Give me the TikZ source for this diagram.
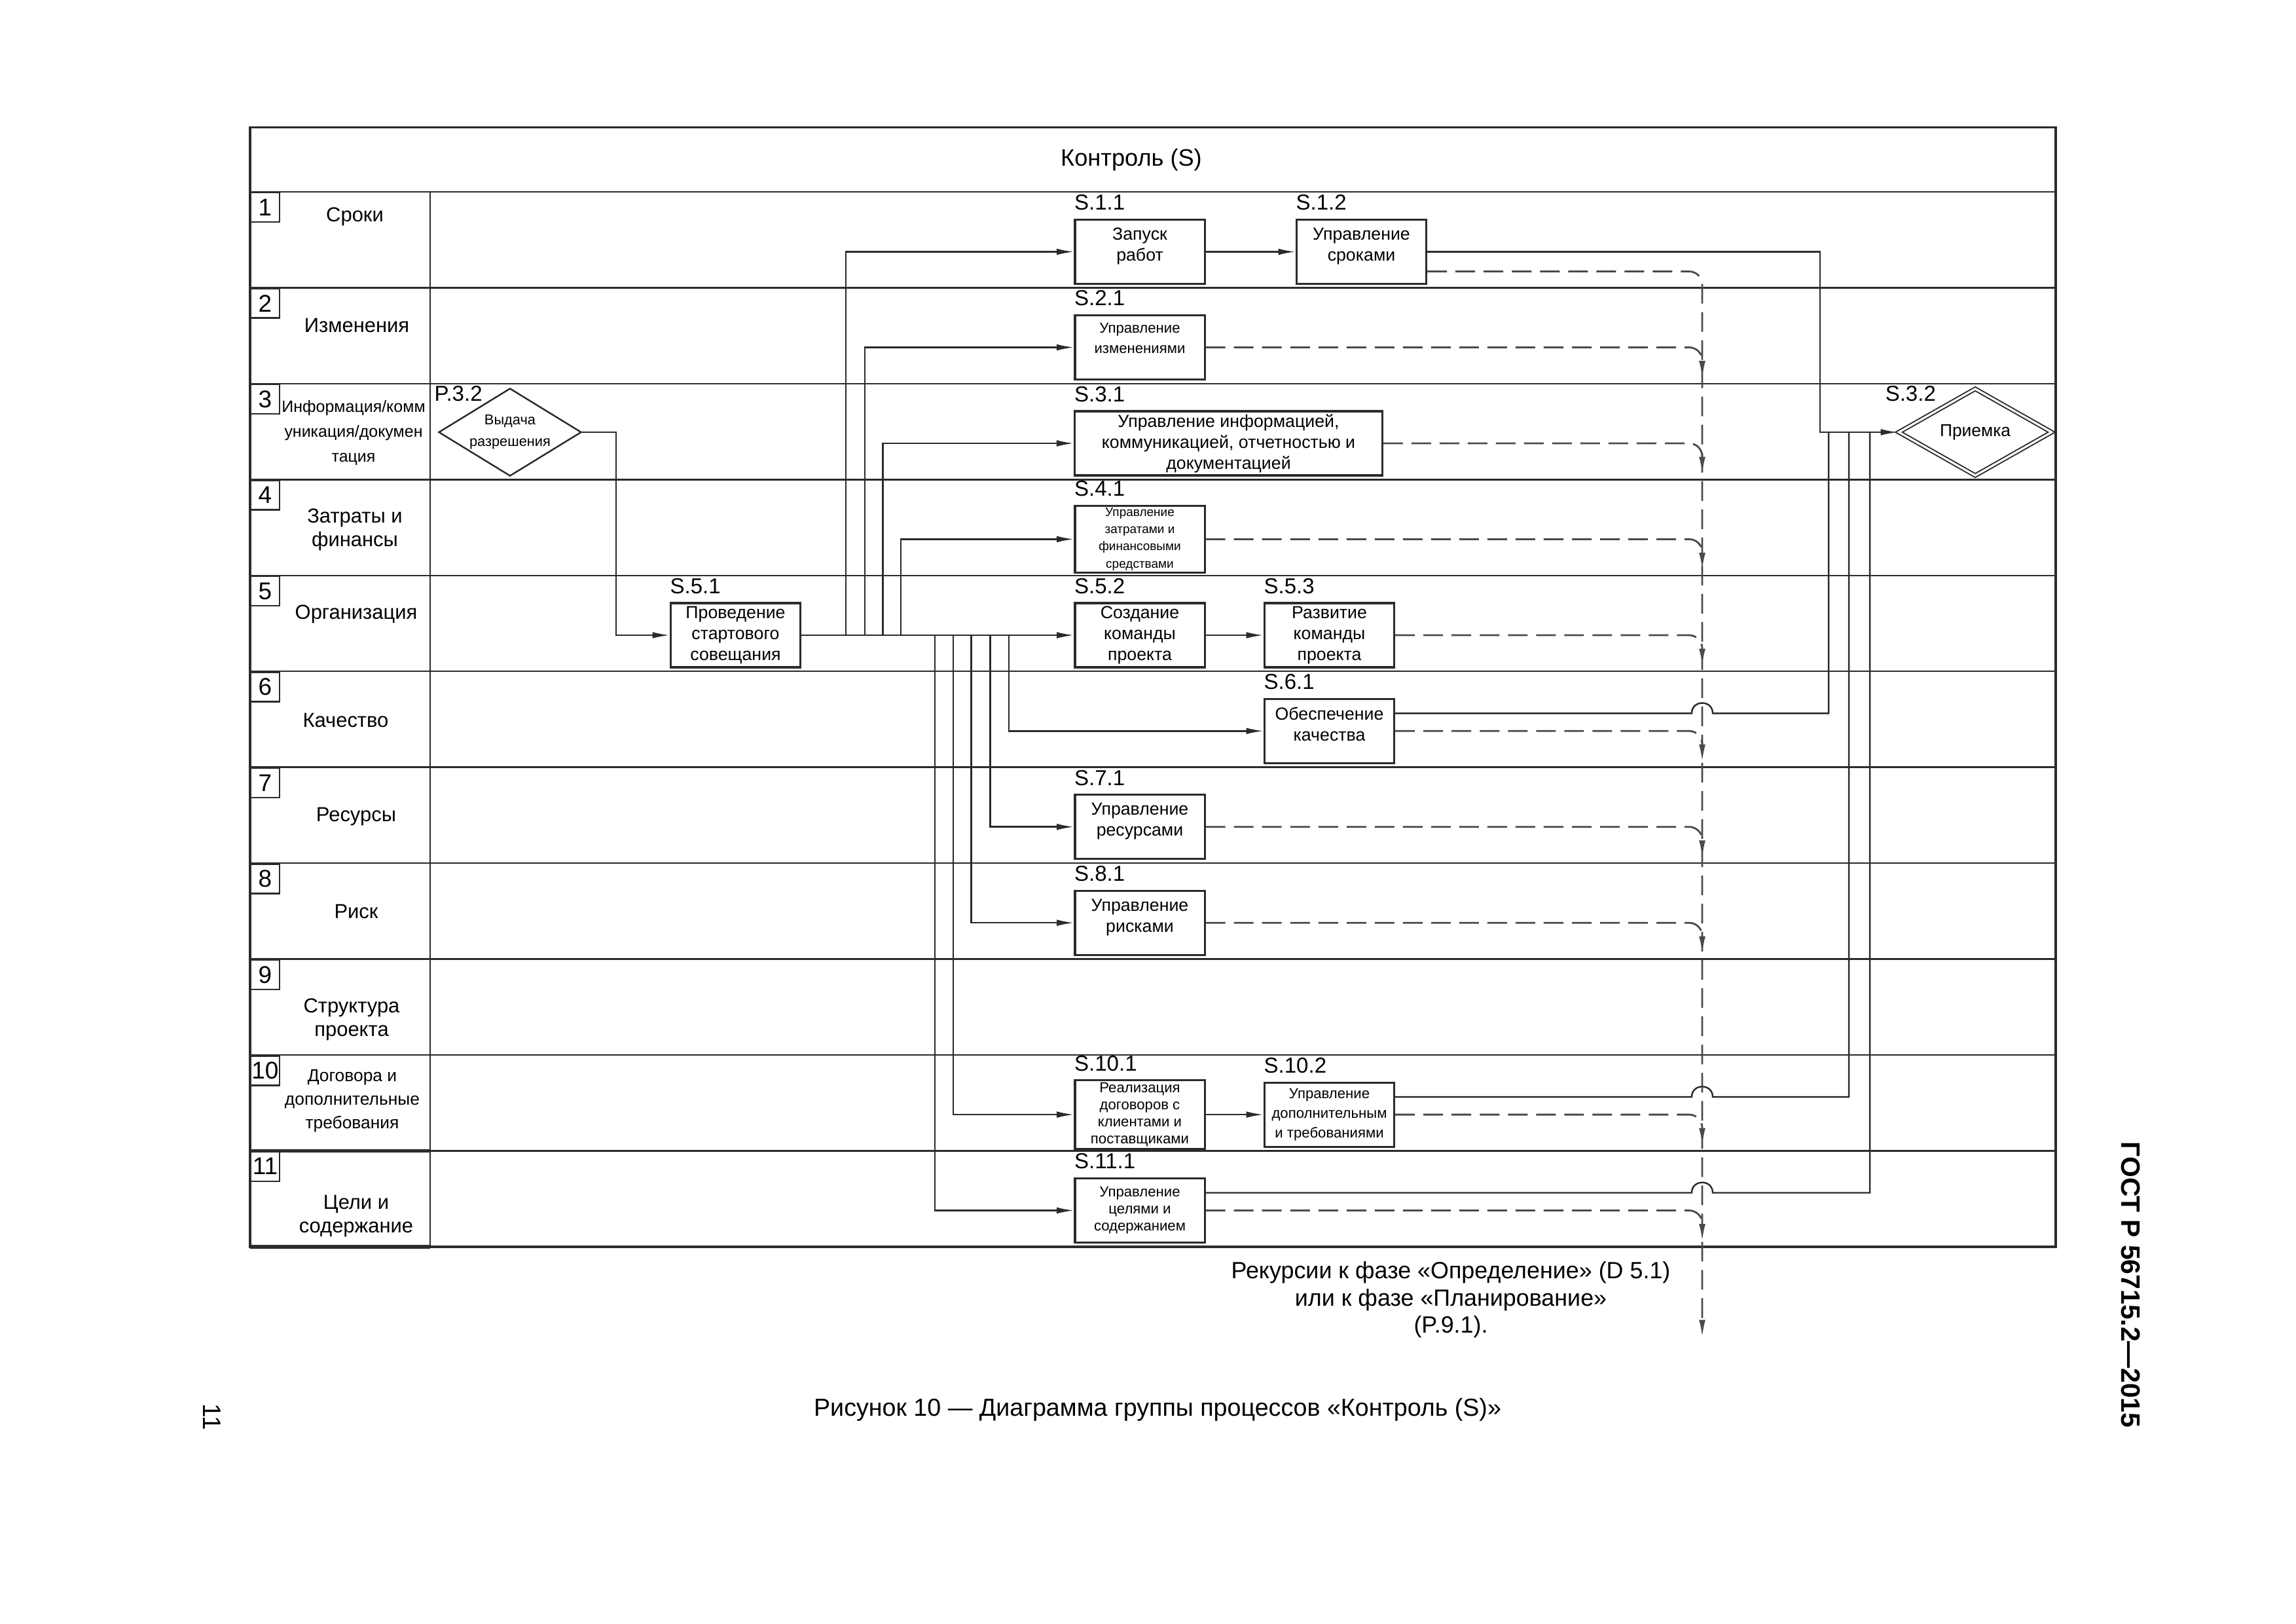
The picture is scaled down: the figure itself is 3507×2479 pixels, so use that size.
\documentclass[tikz,border=0pt]{standalone}
\usepackage{fontspec}
\setmainfont{Liberation Sans}
\usepackage{tikz}
\usetikzlibrary{shapes.geometric, arrows.meta, positioning, calc}
\definecolor{LineGrey}{HTML}{2B2B2B}
\definecolor{DashGrey}{HTML}{4A4A4A}
\newcommand{\titlefont}{\fontsize{10.3}{12}\selectfont}
\newcommand{\lanefont}{\fontsize{8.8}{10.4}\selectfont}
\newcommand{\boxfont}{\fontsize{7.6}{9.1}\selectfont}
\newcommand{\codefont}{\fontsize{9.4}{11}\selectfont}
\newcommand{\numfont}{\fontsize{10.5}{12}\selectfont}

\begin{document}
\begin{tikzpicture}[x=0.01cm, y=-0.01cm, >={Latex[length=7.5pt,width=2.8pt]},
    every node/.style={font=\boxfont},
    frame/.style={draw=LineGrey, line width=0.9pt},
    lane/.style={draw=LineGrey, line width=0.7pt},
    numbox/.style={draw=LineGrey, line width=0.7pt, anchor=north west, minimum width=0.435cm, minimum height=0.45cm, inner sep=0pt, font=\numfont},
    lanelabel/.style={align=center, inner sep=0pt, font=\lanefont},
    procbox/.style={draw=LineGrey, line width=0.9pt, fill=white, minimum width=1.98cm, minimum height=0.98cm, inner sep=1pt, align=center},
    decision/.style={diamond, draw=LineGrey, line width=0.7pt, fill=white, inner sep=0pt, align=center},
    code/.style={anchor=south west, inner sep=0pt, fill=white, font=\codefont},
    flow/.style={draw=LineGrey, line width=0.7pt},
    recur/.style={draw=DashGrey, line width=0.8pt, dash pattern=on 0.3cm off 0.13cm, rounded corners=0.2cm}]
  \useasboundingbox (0,0) rectangle (3507,2479);

  % frame, lanes and lane numbers
  \draw[frame] (382,194.5) rectangle (3140,1904);
  \node[font=\titlefont] (title) at (1728,244) {Контроль (S)};
  \foreach \n in {1,...,11} {
    \pgfmathsetmacro{\y}{293+146.45*(\n-1)}
    \draw[lane] (382,\y) -- (3140,\y);
    \node[numbox] (num\n) at (382,\y) {\n};
  }
  \draw[lane] (657,293) -- (657,1904);
  \draw[line width=1.6pt, LineGrey] (382,1757.5) -- (657,1757.5);
  \draw[line width=1.6pt, LineGrey] (382,1904) -- (657,1904);

  % lane labels
  \node[lanelabel] (lab1) at (542,331) {Сроки};
  \node[lanelabel] (lab2) at (545,497) {Изменения};
  \node[lanelabel, font=\fontsize{7.1}{10.8}\selectfont] (lab3) at (540,661) {Информация/комм\\уникация/докумен\\тация};
  \node[lanelabel] (lab4) at (542,809) {Затраты и\\финансы};
  \node[lanelabel] (lab5) at (544,938) {Организация};
  \node[lanelabel] (lab6) at (528,1100) {Качество};
  \node[lanelabel] (lab7) at (544,1247) {Ресурсы};
  \node[lanelabel] (lab8) at (544,1392) {Риск};
  \node[lanelabel] (lab9) at (537,1557) {Структура\\проекта};
  \node[lanelabel, font=\fontsize{7.5}{10.2}\selectfont] (lab10) at (538,1681) {Договора и\\дополнительные\\требования};
  \node[lanelabel] (lab11) at (544,1857) {Цели и\\содержание};

  % processes
  \node[decision, aspect=1.63, minimum width=2.18cm, minimum height=1.34cm, font=\fontsize{6.2}{9.4}\selectfont] (p32) at (779,660) {Выдача\\разрешения};
  \node[code] (lp32) at (663,614) {P.3.2};
  \node[procbox] (s51) at (1123.5,970) {Проведение\\стартового\\совещания};
  \node[procbox] (s11) at (1741,384.5) {Запуск\\работ\\[-0.1cm]};
  \node[procbox] (s12) at (2079.5,384.5) {Управление\\сроками\\[-0.1cm]};
  \node[procbox, font=\fontsize{6.3}{8.8}\selectfont] (s21) at (1741,530.5) {Управление\\изменениями\\[-0.02cm]};
  \node[procbox, minimum width=4.69cm] (s31) at (1876.5,677) {Управление информацией,\\коммуникацией, отчетностью и\\документацией};
  \node[procbox, font=\fontsize{5.4}{7.4}\selectfont] (s41) at (1741,823.4) {Управление\\затратами и\\финансовыми\\средствами};
  \node[procbox] (s52) at (1741,970) {Создание\\команды\\проекта};
  \node[procbox] (s53) at (2030.5,970) {Развитие\\команды\\проекта};
  \node[procbox] (s61) at (2030.5,1116.3) {Обеспечение\\качества\\[-0.1cm]};
  \node[procbox] (s71) at (1741,1262.7) {Управление\\ресурсами\\[-0.1cm]};
  \node[procbox] (s81) at (1741,1409.2) {Управление\\рисками\\[-0.1cm]};
  \node[procbox, font=\fontsize{6.3}{7.4}\selectfont] (s101) at (1741,1702.1) {Реализация\\договоров с\\клиентами и\\поставщиками};
  \node[procbox, font=\fontsize{6.3}{8.5}\selectfont] (s102) at (2030.5,1702.1) {Управление\\дополнительным\\и требованиями};
  \node[procbox, font=\fontsize{6.3}{7.4}\selectfont] (s111) at (1741,1848.5) {Управление\\целями и\\содержанием};
  \node[decision, double, double distance=0.9pt, line width=0.55pt, aspect=1.76, minimum width=2.34cm, minimum height=1.33cm, font=\fontsize{7.5}{9}\selectfont] (s32) at (3017,660) {Приемка};

  % process codes
  \node[code] (l11) at ([yshift=0.12cm]s11.north west) {S.1.1};
  \node[code] (l12) at ([yshift=0.12cm]s12.north west) {S.1.2};
  \node[code] (l21) at ([yshift=0.12cm]s21.north west) {S.2.1};
  \node[code] (l31) at ([yshift=0.12cm]s31.north west) {S.3.1};
  \node[code] (l41) at ([yshift=0.12cm]s41.north west) {S.4.1};
  \node[code] (l51) at ([yshift=0.12cm]s51.north west) {S.5.1};
  \node[code] (l52) at ([yshift=0.12cm]s52.north west) {S.5.2};
  \node[code] (l53) at ([yshift=0.12cm]s53.north west) {S.5.3};
  \node[code] (l61) at ([yshift=0.12cm]s61.north west) {S.6.1};
  \node[code] (l71) at ([yshift=0.12cm]s71.north west) {S.7.1};
  \node[code] (l81) at ([yshift=0.12cm]s81.north west) {S.8.1};
  \node[code] (l101) at ([yshift=0.12cm]s101.north west) {S.10.1};
  \node[code] (l102) at ([yshift=0.12cm]s102.north west) {S.10.2};
  \node[code] (l111) at ([yshift=0.12cm]s111.north west) {S.11.1};
  \node[code] (l32) at (2879,614) {S.3.2};

  % bus positions
  \coordinate (in51) at (941,0);
  \coordinate (u1) at (1292,0);
  \coordinate (u2) at (1321,0);
  \coordinate (u3) at (1348.5,0);
  \coordinate (u4) at (1376,0);
  \coordinate (d1) at (1428,0);
  \coordinate (d2) at (1456,0);
  \coordinate (d3) at (1483.6,0);
  \coordinate (d4) at (1512.6,0);
  \coordinate (d5) at (1541,0);
  \coordinate (trunk) at (2600,0);
  \coordinate (trunkend) at (2600,2042);
  \coordinate (acc) at (2780,0);
  \coordinate (fb1) at (2793,0);
  \coordinate (fb2) at (2824,0);
  \coordinate (fb3) at (2856,0);

  % solid flows
  \draw[flow,->] (p32.east) -| (in51 |- s51) -- (s51);
  \draw[flow,->] (s51) -- (s52);
  \draw[flow,->] (s52) -- (s53);
  \draw[flow,->] (s11) -- (s12);
  \draw[flow,->] (s101) -- (s102);
  \draw[flow,->] (s51.east) -| (u1 |- s11) -- (s11);
  \draw[flow,->] (s51.east) -| (u2 |- s21) -- (s21);
  \draw[flow,->] (s51.east) -| (u3 |- s31) -- (s31);
  \draw[flow,->] (s51.east) -| (u4 |- s41) -- (s41);
  \draw[flow,->] (s51.east) -| (d5 |- s61) -- (s61);
  \draw[flow,->] (s51.east) -| (d4 |- s71) -- (s71);
  \draw[flow,->] (s51.east) -| (d3 |- s81) -- (s81);
  \draw[flow,->] (s51.east) -| (d2 |- s101) -- (s101);
  \draw[flow,->] (s51.east) -| (d1 |- s111) -- (s111);
  \draw[flow,->] (s12.east) -| (acc |- s32) -- (s32);

  % feedback to acceptance, hopping over the recursion line
  \coordinate (q61) at ([yshift=0.27cm]s61.east);
  \coordinate (q102) at ([yshift=0.27cm]s102.east);
  \coordinate (q111) at ([yshift=0.27cm]s111.east);
  \coordinate (h61) at (trunk |- q61);
  \coordinate (h102) at (trunk |- q102);
  \coordinate (h111) at (trunk |- q111);
  \draw[flow] (q61) -- ([xshift=-0.16cm]h61) .. controls +(0,-21) and +(0,-21) .. ([xshift=0.16cm]h61) -- (fb1 |- q61) -- (fb1 |- s32);
  \draw[flow] (q102) -- ([xshift=-0.16cm]h102) .. controls +(0,-21) and +(0,-21) .. ([xshift=0.16cm]h102) -- (fb2 |- q102) -- (fb2 |- s32);
  \draw[flow] (q111) -- ([xshift=-0.16cm]h111) .. controls +(0,-21) and +(0,-21) .. ([xshift=0.16cm]h111) -- (fb3 |- q111) -- (fb3 |- s32);

  % recursion (dashed)
  \coordinate (q12) at ([yshift=-0.3cm]s12.east);
  \draw[recur,->] (q12) -- (trunk |- q12) -- (trunkend);
  \draw[recur,->] (s21.east) -- (trunk |- s21.east) -- ++(0,47);
  \draw[recur,->] (s31.east) -- (trunk |- s31.east) -- ++(0,47);
  \draw[recur,->] (s41.east) -- (trunk |- s41.east) -- ++(0,47);
  \draw[recur,->] (s53.east) -- (trunk |- s53.east) -- ++(0,47);
  \draw[recur,->] (s61.east) -- (trunk |- s61.east) -- ++(0,47);
  \draw[recur,->] (s71.east) -- (trunk |- s71.east) -- ++(0,47);
  \draw[recur,->] (s81.east) -- (trunk |- s81.east) -- ++(0,47);
  \draw[recur,->] (s102.east) -- (trunk |- s102.east) -- ++(0,47);
  \draw[recur,->] (s111.east) -- (trunk |- s111.east) -- ++(0,47);

  % texts outside the frame
  \node[align=center, font=\fontsize{10.2}{11.8}\selectfont] (recurtext) at (2216,1985) {Рекурсии к фазе «Определение» (D 5.1)\\или к фазе «Планирование»\\(P.9.1).};
  \node[font=\fontsize{10.7}{13}\selectfont] (caption) at (1768,2153) {Рисунок 10 — Диаграмма группы процессов «Контроль (S)»};
  \node[rotate=-90, font=\bfseries\fontsize{11.6}{14}\selectfont] (gost) at (3254,1962) {ГОСТ Р 56715.2—2015};
  \node[rotate=-90, font=\fontsize{11}{13}\selectfont] (page) at (324,2164) {11};
\end{tikzpicture}
\end{document}
